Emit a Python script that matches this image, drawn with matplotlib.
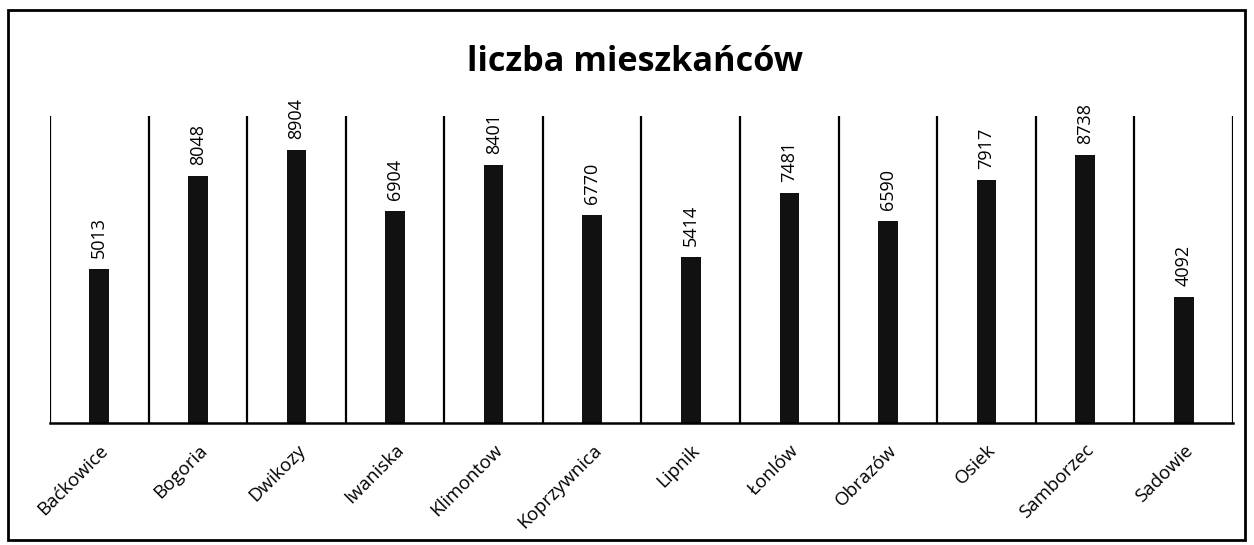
import matplotlib.pyplot as plt
from matplotlib.patches import Rectangle

# dane: liczba mieszkańców w gminach
gminy = ["Baćkowice", "Bogoria", "Dwikozy", "Iwaniska", "Klimontow", "Koprzywnica",
         "Lipnik", "Łonlów", "Obrazów", "Osiek", "Samborzec", "Sadowie"]
mieszkancy = [5013, 8048, 8904, 6904, 8401, 6770, 5414, 7481, 6590, 7917, 8738, 4092]

plt.rcParams['font.family'] = ['Open Sans', 'DejaVu Sans']

fig = plt.figure(figsize=(12.54, 5.45), dpi=100)
ax = fig.add_axes([50 / 1254, 1 - 423 / 545, 1183 / 1254, 307 / 545])

x = list(range(len(gminy)))
ax.bar(x, mieszkancy, width=0.2, color="#111111")

# pionowe linie między kategoriami
for i in range(len(gminy) + 1):
    ax.axvline(i - 0.5, color="black", linewidth=1.6)

for xi, v in zip(x, mieszkancy):
    ax.annotate(str(v), (xi, v), xytext=(0, 8), textcoords="offset points",
                rotation=90, ha="center", va="bottom", fontsize=13)

ax.set_xlim(-0.5, len(gminy) - 0.5)
ax.set_ylim(0, 10000)
ax.set_yticks([])
ax.set_xticks(x)
ax.set_xticklabels(gminy, rotation=45, ha="right", rotation_mode="anchor", fontsize=13.5)
ax.tick_params(axis="x", length=0, pad=13)
for s in ["top", "right", "left"]:
    ax.spines[s].set_visible(False)
ax.spines["bottom"].set_linewidth(1.8)

fig.text(635 / 1254, 1 - 62 / 545, "liczba mieszkańców", ha="center", va="center",
         fontsize=24.7, fontweight="bold")

# ramka wokół wykresu
fig.patches.append(Rectangle((8 / 1254, 5 / 545), 1237 / 1254, 530 / 545,
                             transform=fig.transFigure, fill=False,
                             edgecolor="black", linewidth=2))

fig.savefig("out.png", dpi=100)
